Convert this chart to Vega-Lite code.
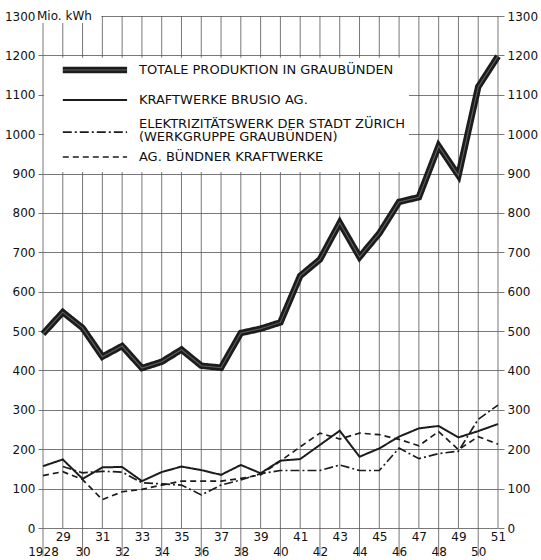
{
  "$schema": "https://vega.github.io/schema/vega-lite/v6.json",
  "width": 455,
  "height": 512,
  "autosize": "none",
  "padding": {"left": 43, "top": 16, "right": 43, "bottom": 32},
  "background": "white",
  "config": {
    "font": "DejaVu Sans",
    "view": {"stroke": null},
    "axis": {"labelFont": "DejaVu Sans", "labelFontSize": 12, "labelColor": "#111", "gridColor": "#555", "gridWidth": 0.8, "tickColor": "#555", "tickWidth": 0.8, "domain": false, "title": null}
  },
  "data": {"values": [
    {"year": 1928, "total": 493, "brusio": 157, "ewz": null, "buendner": 133},
    {"year": 1929, "total": 548, "brusio": 174, "ewz": 156, "buendner": 143},
    {"year": 1930, "total": 508, "brusio": 125, "ewz": 140, "buendner": 123},
    {"year": 1931, "total": 435, "brusio": 154, "ewz": 144, "buendner": 72},
    {"year": 1932, "total": 462, "brusio": 155, "ewz": 142, "buendner": 92},
    {"year": 1933, "total": 406, "brusio": 119, "ewz": 115, "buendner": 98},
    {"year": 1934, "total": 422, "brusio": 142, "ewz": 112, "buendner": 109},
    {"year": 1935, "total": 453, "brusio": 156, "ewz": 109, "buendner": 119},
    {"year": 1936, "total": 412, "brusio": 147, "ewz": 84, "buendner": 119},
    {"year": 1937, "total": 407, "brusio": 135, "ewz": 109, "buendner": 119},
    {"year": 1938, "total": 495, "brusio": 160, "ewz": 122, "buendner": 126},
    {"year": 1939, "total": 506, "brusio": 139, "ewz": 138, "buendner": 135},
    {"year": 1940, "total": 522, "brusio": 171, "ewz": 146, "buendner": 170},
    {"year": 1941, "total": 640, "brusio": 175, "ewz": 146, "buendner": 206},
    {"year": 1942, "total": 682, "brusio": 211, "ewz": 146, "buendner": 241},
    {"year": 1943, "total": 775, "brusio": 247, "ewz": 160, "buendner": 226},
    {"year": 1944, "total": 688, "brusio": 181, "ewz": 146, "buendner": 241},
    {"year": 1945, "total": 748, "brusio": 202, "ewz": 146, "buendner": 237},
    {"year": 1946, "total": 828, "brusio": 232, "ewz": 203, "buendner": 225},
    {"year": 1947, "total": 840, "brusio": 253, "ewz": 176, "buendner": 209},
    {"year": 1948, "total": 970, "brusio": 259, "ewz": 189, "buendner": 245},
    {"year": 1949, "total": 895, "brusio": 230, "ewz": 195, "buendner": 199},
    {"year": 1950, "total": 1120, "brusio": 246, "ewz": 276, "buendner": 232},
    {"year": 1951, "total": 1198, "brusio": 264, "ewz": 312, "buendner": 213}
  ]},
  "transform": [{"fold": ["total", "brusio", "ewz", "buendner"], "as": ["series", "value"]}],
  "resolve": {"axis": {"x": "independent", "y": "independent"}},
  "layer": [
    {
      "transform": [{"filter": "datum.series == 'total'"}],
      "mark": {"type": "rule", "color": "#555", "strokeWidth": 0.8},
      "encoding": {
        "x": {"field": "year", "type": "quantitative", "axis": null},
        "y": {"datum": 0, "type": "quantitative", "axis": null},
        "y2": {"datum": 1300}
      }
    },
    {
      "transform": [{"filter": "datum.series == 'total' && datum.year % 2 == 0"}],
      "mark": {"type": "rule", "color": "#555", "strokeWidth": 0.8},
      "encoding": {
        "x": {"field": "year", "type": "quantitative", "axis": null},
        "y": {"datum": 0, "type": "quantitative", "axis": null},
        "y2": {"datum": -72}
      }
    },
    {
      "data": {"values": [{}]},
      "mark": {"type": "rect", "color": "white"},
      "encoding": {
        "x": {"datum": 1927.7, "type": "quantitative", "axis": null},
        "x2": {"datum": 1930.95},
        "y": {"datum": 1282, "type": "quantitative", "axis": null},
        "y2": {"datum": 1320}
      }
    },
    {
      "data": {"values": [{}]},
      "mark": {"type": "rect", "color": "white"},
      "encoding": {
        "x": {"datum": 1928.05, "type": "quantitative", "axis": null},
        "x2": {"datum": 1946.5},
        "y": {"datum": 904, "type": "quantitative", "axis": null},
        "y2": {"datum": 1194}
      }
    },
    {
      "data": {"values": [{}]},
      "mark": {"type": "text", "text": "Mio. kWh", "align": "left", "baseline": "middle", "dx": -6, "fontSize": 12, "font": "DejaVu Sans", "color": "#111"},
      "encoding": {
        "x": {"datum": 1928, "type": "quantitative", "axis": null},
        "y": {"datum": 1300, "type": "quantitative", "axis": null}
      }
    },
    {
      "data": {"values": [{}]},
      "mark": {"type": "rule", "color": "#1c1c1c", "strokeWidth": 6.5, "strokeCap": "butt"},
      "encoding": {
        "x": {"datum": 1929.0, "type": "quantitative", "axis": null},
        "x2": {"datum": 1932.25},
        "y": {"datum": 1163, "type": "quantitative", "axis": null}
      }
    },
    {
      "data": {"values": [{}]},
      "mark": {"type": "rule", "color": "#707070", "strokeWidth": 1.1, "opacity": 0.8, "strokeCap": "butt"},
      "encoding": {
        "x": {"datum": 1929.0, "type": "quantitative", "axis": null},
        "x2": {"datum": 1932.25},
        "y": {"datum": 1163, "type": "quantitative", "axis": null}
      }
    },
    {
      "data": {"values": [{}]},
      "mark": {"type": "rule", "color": "#1c1c1c", "strokeWidth": 2, "strokeCap": "butt"},
      "encoding": {
        "x": {"datum": 1929.0, "type": "quantitative", "axis": null},
        "x2": {"datum": 1932.25},
        "y": {"datum": 1087, "type": "quantitative", "axis": null}
      }
    },
    {
      "data": {"values": [{}]},
      "mark": {"type": "rule", "color": "#1c1c1c", "strokeWidth": 1.7, "strokeDash": [9, 3, 2, 3], "strokeCap": "butt"},
      "encoding": {
        "x": {"datum": 1929.0, "type": "quantitative", "axis": null},
        "x2": {"datum": 1932.25},
        "y": {"datum": 1005, "type": "quantitative", "axis": null}
      }
    },
    {
      "data": {"values": [{}]},
      "mark": {"type": "rule", "color": "#1c1c1c", "strokeWidth": 1.7, "strokeDash": [6, 4], "strokeCap": "butt"},
      "encoding": {
        "x": {"datum": 1929.0, "type": "quantitative", "axis": null},
        "x2": {"datum": 1932.25},
        "y": {"datum": 942, "type": "quantitative", "axis": null}
      }
    },
    {
      "data": {"values": [{}]},
      "mark": {"type": "text", "text": "TOTALE PRODUKTION IN GRAUBÜNDEN", "align": "left", "baseline": "middle", "fontSize": 13, "font": "DejaVu Sans", "color": "#111"},
      "encoding": {
        "x": {"datum": 1932.85, "type": "quantitative", "axis": null},
        "y": {"datum": 1163, "type": "quantitative", "axis": null}
      }
    },
    {
      "data": {"values": [{}]},
      "mark": {"type": "text", "text": "KRAFTWERKE BRUSIO AG.", "align": "left", "baseline": "middle", "fontSize": 13, "font": "DejaVu Sans", "color": "#111"},
      "encoding": {
        "x": {"datum": 1932.85, "type": "quantitative", "axis": null},
        "y": {"datum": 1087, "type": "quantitative", "axis": null}
      }
    },
    {
      "data": {"values": [{}]},
      "mark": {"type": "text", "text": ["ELEKTRIZITÄTSWERK DER STADT ZÜRICH", "(WERKGRUPPE GRAUBÜNDEN)"], "lineHeight": 13.5, "align": "left", "baseline": "middle", "fontSize": 13, "font": "DejaVu Sans", "color": "#111"},
      "encoding": {
        "x": {"datum": 1932.85, "type": "quantitative", "axis": null},
        "y": {"datum": 1026, "type": "quantitative", "axis": null}
      }
    },
    {
      "data": {"values": [{}]},
      "mark": {"type": "text", "text": "AG. BÜNDNER KRAFTWERKE", "align": "left", "baseline": "middle", "fontSize": 13, "font": "DejaVu Sans", "color": "#111"},
      "encoding": {
        "x": {"datum": 1932.85, "type": "quantitative", "axis": null},
        "y": {"datum": 942, "type": "quantitative", "axis": null}
      }
    },
    {
      "mark": {"type": "line", "color": "#1c1c1c", "strokeJoin": "miter", "strokeCap": "butt"},
      "encoding": {
        "x": {
          "field": "year", "type": "quantitative",
          "scale": {"domain": [1928, 1951], "nice": false, "zero": false},
          "axis": {
            "values": [1928,1929,1930,1931,1932,1933,1934,1935,1936,1937,1938,1939,1940,1941,1942,1943,1944,1945,1946,1947,1948,1949,1950,1951],
            "format": "d",
            "labelExpr": "datum.value % 2 == 0 ? ['', (datum.value == 1928 ? '1928' : substring(toString(datum.value), 2))] : substring(toString(datum.value), 2)",
            "ticks": false,
            "labelPadding": 3,
            "labelLineHeight": 15,
            "labelBaseline": "top",
            "labelOverlap": false,
            "labelFlush": false,
            "grid": false
          }
        },
        "y": {
          "field": "value", "type": "quantitative",
          "scale": {"domain": [0, 1300], "nice": false},
          "axis": {"orient": "left", "format": "d", "values": [0,100,200,300,400,500,600,700,800,900,1000,1100,1200,1300], "grid": true, "tickSize": 5, "labelPadding": 3, "zindex": 0}
        },
        "strokeDash": {
          "field": "series", "type": "nominal",
          "scale": {"domain": ["total", "brusio", "ewz", "buendner"], "range": [[1, 0], [1, 0], [9, 3, 2, 3], [6, 4]]},
          "legend": null
        },
        "strokeWidth": {
          "field": "series", "type": "nominal",
          "scale": {"type": "ordinal", "domain": ["total", "brusio", "ewz", "buendner"], "range": [6.5, 2, 1.7, 1.7]},
          "legend": null
        }
      }
    },
    {
      "transform": [{"filter": "datum.series == 'total'"}],
      "mark": {"type": "line", "color": "#707070", "strokeWidth": 1.1, "strokeJoin": "miter", "opacity": 0.8},
      "encoding": {
        "x": {"field": "year", "type": "quantitative", "axis": null},
        "y": {"field": "value", "type": "quantitative", "axis": {"orient": "right", "format": "d", "values": [0,100,200,300,400,500,600,700,800,900,1000,1100,1200,1300], "grid": false, "tickSize": 6, "labelPadding": 3, "zindex": 0}}
      }
    }
  ]
}
